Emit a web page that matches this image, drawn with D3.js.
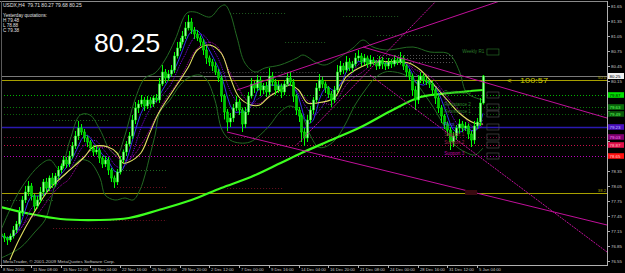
<!DOCTYPE html>
<html><head><meta charset="utf-8">
<script src="https://cdn.jsdelivr.net/npm/d3@7/dist/d3.min.js"></script>
<style>html,body{margin:0;padding:0;background:#000;overflow:hidden}svg{display:block}</style>
</head><body><svg id="c" width="625" height="273"></svg>
<script>
// ---------- DATA ----------
const firstOpen = 77.09;
const closes = [
 77.05,77.01,76.97,77.05,77.17,77.29,77.53,77.77,77.93,78.05,
 77.85,77.65,77.77,77.93,78.13,78.01,78.21,78.09,78.25,78.37,
 78.45,78.57,78.49,78.65,78.85,79.05,79.21,79.13,79.01,78.93,
 78.81,78.73,78.77,78.61,78.49,78.57,78.37,78.21,78.13,78.33,
 78.57,78.73,78.89,79.05,79.37,79.61,79.69,79.77,79.65,79.77,
 79.69,79.81,79.77,80.09,80.33,80.21,80.29,80.37,80.65,80.81,
 80.93,81.05,81.21,81.33,81.17,81.09,81.01,80.93,80.77,80.61,
 80.53,80.45,80.33,80.21,79.85,79.53,79.33,79.41,79.61,79.73,
 79.57,79.29,79.53,79.85,80.09,80.01,80.17,79.97,80.05,79.93,
 80.25,80.13,79.97,80.05,79.93,80.09,80.21,80.13,79.85,79.57,
 79.45,79.13,79.01,79.37,79.57,79.77,80.01,80.17,80.09,80.01,
 79.89,79.77,79.97,80.33,80.45,80.37,80.53,80.41,80.49,80.61,
 80.65,80.53,80.61,80.49,80.57,80.53,80.45,80.57,80.49,80.45,
 80.53,80.49,80.57,80.53,80.61,80.45,80.33,80.25,79.97,79.77,
 80.17,80.25,80.17,80.13,80.09,79.97,79.81,79.61,79.45,79.29,
 79.17,78.93,79.05,79.21,79.29,79.21,79.25,79.09,78.97,79.25,
 79.33,79.71,80.25];
const wickUp = [
 .04,.06,.03,.05,.08,.06,.1,.08,.12,.1, .06,.04,.08,.1,.06,.08,.05,.1,.06,.08,
 .05,.08,.06,.1,.08,.1,.14,.08,.06,.05, .04,.06,.08,.05,.04,.08,.06,.04,.05,.06,
 .08,.05,.06,.08,.1,.12,.08,.1,.06,.08, .06,.05,.08,.12,.14,.06,.08,.1,.08,.12,
 .08,.1,.12,.14,.08,.06,.08,.05,.06,.08, .05,.06,.08,.06,.05,.04,.06,.1,.08,.12,
 .06,.05,.1,.08,.12,.06,.1,.08,.06,.08, .16,.08,.06,.1,.05,.08,.1,.12,.06,.04,
 .06,.05,.08,.1,.08,.06,.1,.12,.06,.05, .04,.06,.08,.14,.1,.06,.12,.08,.06,.1,
 .12,.06,.08,.05,.1,.06,.04,.08,.06,.05, .08,.06,.1,.06,.12,.05,.04,.06,.05,.08,
 .1,.08,.05,.06,.04,.06,.04,.05,.06,.04, .05,.06,.08,.06,.1,.06,.08,.05,.06,.1,
 .08,.1,.02];
const wickDn = [
 .06,.08,.1,.04,.05,.06,.05,.08,.06,.08, .08,.1,.05,.06,.08,.1,.06,.08,.05,.06,
 .06,.05,.08,.06,.05,.06,.08,.06,.08,.1, .06,.08,.05,.1,.08,.06,.1,.08,.12,.06,
 .05,.06,.08,.05,.06,.08,.1,.06,.1,.06, .08,.06,.05,.06,.04,.1,.06,.05,.06,.05,
 .06,.05,.06,.05,.08,.1,.06,.08,.1,.12, .08,.1,.06,.08,.12,.15,.18,.1,.08,.06,
 .1,.16,.08,.06,.05,.1,.06,.12,.08,.1, .06,.08,.1,.06,.12,.06,.05,.08,.12,.1,
 .12,.2,.16,.08,.06,.08,.05,.06,.08,.1, .08,.14,.06,.05,.06,.08,.05,.06,.08,.05,
 .06,.08,.06,.08,.05,.06,.08,.06,.1,.08, .06,.08,.05,.06,.05,.08,.1,.08,.12,.2,
 .08,.06,.08,.06,.08,.1,.12,.1,.14,.1, .12,.16,.1,.08,.12,.08,.06,.1,.14,.08,
 .06,.08,.03];

const timeLabels = ["8 Nov 2010","11 Nov 08:00","15 Nov 12:00","18 Nov 04:00","22 Nov 16:00",
 "25 Nov 08:00","29 Nov 20:00","2 Dec 12:00","7 Dec 00:00","9 Dec 16:00","14 Dec 04:00",
 "16 Dec 20:00","21 Dec 08:00","24 Dec 00:00","28 Dec 16:00","31 Dec 12:00","5 Jan 04:00"];
const priceTicks = [81.65,81.35,81.05,80.75,80.45,80.15,79.85,79.55,79.25,78.95,78.65,78.35,78.05,77.75,77.45,77.15,76.85,76.55];

// indicator lines read as [bar index, price]
const ema200 = [[0,77.63],[10,77.49],[20,77.39],[33,77.37],[43,77.41],[53,77.57],[64,77.77],[74,78.01],
 [84,78.23],[94,78.51],[101,78.71],[111,78.97],[121,79.23],[131,79.55],[141,79.83],[151,79.91],[162,79.97]];
const maYellow = [[3,76.57],[6,76.97],[11,77.51],[16,77.97],[22,78.31],[28,78.63],[31,78.83],[36,78.83],
 [39,78.71],[41,78.51],[43,78.53],[47,78.71],[50,79.11],[53,79.51],[58,79.97],[63,80.43],[66,80.77],
 [70,80.87],[74,80.71],[77,80.23],[80,79.83],[84,79.67],[87,79.67],[90,79.83],[94,79.97],[97,80.07],
 [100,79.97],[103,79.71],[106,79.71],[112,79.81],[116,80.23],[121,80.43],[126,80.53],[133,80.53],
 [137,80.51],[141,80.37],[145,80.11],[150,79.77],[154,79.51],[159,79.31],[162,79.29]];
const bbUpper = [[0,77.17],[6.4,77.97],[13.1,78.47],[16.5,78.57],[19.8,78.37],[23.2,78.97],[26.6,79.47],
 [29.9,79.47],[33.3,79.17],[36.6,78.77],[39,78.67],[41.7,79.07],[45,79.77],[48.4,80.21],[51.8,80.31],
 [55.1,80.57],[58.5,80.97],[62.5,81.51],[65.2,81.53],[70.3,81.43],[73.6,81.63],[75.3,81.67],[77,81.51],
 [79.3,81.03],[82,80.51],[85.4,80.33],[88.7,80.41],[93.8,80.47],[99.5,80.61],[101.5,80.67],[106.2,80.51],
 [108.9,80.47],[114,80.63],[118.3,80.81],[121.7,80.97],[125,80.83],[129.7,80.77],[138.5,80.83],
 [144.2,80.73],[149.9,80.71],[151.9,80.61],[154.3,80.31],[156.6,79.91],[162,79.77]];
const bbLower = [[0,76.61],[6.4,76.81],[11.4,77.13],[14.8,77.37],[16.5,77.67],[18.2,78.07],[19.8,78.21],
 [23.2,78.37],[26.6,78.57],[29.9,78.53],[33.3,78.21],[35,77.87],[38.3,77.77],[41.7,77.81],[44.4,77.77],
 [46.7,77.97],[48.4,78.27],[50.1,78.67],[51.8,79.07],[53.4,79.53],[56.8,79.77],[60.2,80.07],[63.5,80.23],
 [66.9,80.27],[69.2,80.17],[71.9,79.77],[74.3,79.17],[77,78.97],[80.3,78.91],[83.7,78.93],[87.1,79.07],
 [90.4,79.27],[93.8,79.53],[97.2,79.65],[100.5,79.53],[103.9,79.07],[106.6,78.83],[108.9,78.83],
 [112.3,78.97],[115.6,79.27],[119,79.67],[122.4,79.97],[125.7,80.21],[129.1,80.33],[132.4,80.33],
 [135.8,80.27],[139.2,80.13],[142.5,79.87],[145.9,79.57],[149.3,79.21],[152.6,78.87],[156,78.73],
 [159.3,78.67],[162,78.81]];

// trend lines [[bar, price],[bar, price]]
const trendLines = [
 [[79.3,79.97],[167.7,81.75]],
 [[99.5,78.88],[146.6,81.77]],
 [[121.7,80.83],[203.7,79.41]],
 [[124,80.27],[203.7,76.73]],
 [[76,79.13],[203.7,77.27]]];

// horizontal levels
const currentPrice = 80.25;
const fibo50 = 80.17, fibo38 = 77.91;
const levelPrices = [79.87,79.63,79.49,79.23,79.03,78.87,78.65];
const levelNames = ["Resistance 3","Resistance 2","Resistance 1","Pivot","Support 1","Support 2","Support 3"];
// short pivot segments of earlier periods [startBar, endBar, price]
const oldPivots = [[77,95.5,81.51],[115,133.5,81.45],[126.4,145,81.07],[95.5,109,80.93],[126.4,152,80.67],
 [126.4,152,80.61],[126.4,152,80.53],[67,107,80.33],[17.5,36.6,79.37],[39,55.8,78.37],[39,55.8,78.03],
 [76,94.8,78.01],[0,17.5,77.77],[36.6,55.8,77.37],[17.5,36.6,77.21],[115,133,78.73]];
const weeklyR1 = 80.73;
const headerText = "USDX,H4  79.71 80.27 79.68 80.25";
const yesterday = ["Yesterday quotations:","H 79.48","L 78.88","C 79.38"];
const timerText = "100:57";

// ---------- DRAWING ----------
const W = 625, H = 273, R = 607, B = 265;
const svg = d3.select("#c");
const x = d3.scaleLinear().domain([0,160]).range([1,477]);
const y = d3.scaleLinear().domain([76.55,81.65]).range([261,6]);
const font = "'Liberation Sans', Arial, sans-serif";

svg.append("rect").attr("width",W).attr("height",H).attr("fill","#000");
svg.append("defs").append("clipPath").attr("id","plot")
  .append("rect").attr("x",1).attr("y",1).attr("width",R-1).attr("height",B-1);
const g = svg.append("g").attr("clip-path","url(#plot)");

// old pivot segments
const pivColors = ["#1f5a1f","#1f5a1f","#1f5a1f","#1f5a1f","#555","#555","#555","#555","#1f6a1f","#1f6a1f",
 "#6a1020","#6a1020","#1f5a1f","#6a1020","#6a1020","#6a1020"];
g.selectAll("line.op").data(oldPivots).join("line")
  .attr("x1",d=>x(d[0])).attr("x2",d=>x(d[1])).attr("y1",d=>Math.round(y(d[2]))+0.5).attr("y2",d=>Math.round(y(d[2]))+0.5)
  .attr("stroke",(d,i)=>pivColors[i]).attr("stroke-width",1).attr("stroke-dasharray","1,2");

// full-width levels
const levelColors = ["#00b400","#0a7a0a","#0a600a","#2a18b0","#7a0a3a","#c8104a","#c000c0"];
g.selectAll("line.lv").data(levelPrices).join("line")
  .attr("x1",1).attr("x2",R).attr("y1",d=>Math.round(y(d))+0.5).attr("y2",d=>Math.round(y(d))+0.5)
  .attr("stroke",(d,i)=>levelColors[i]).attr("stroke-width",(d,i)=>i===3?1.5:1)
  .attr("stroke-dasharray",(d,i)=>i===3?null:"1,2");

// current price / fibo lines
g.append("line").attr("x1",1).attr("x2",R).attr("y1",Math.round(y(currentPrice))+0.5).attr("y2",Math.round(y(currentPrice))+0.5)
  .attr("stroke","#7a7a7a").attr("stroke-width",1);
[fibo50,fibo38].forEach(p=>{
  g.append("line").attr("x1",1).attr("x2",R).attr("y1",Math.round(y(p))+0.5).attr("y2",Math.round(y(p))+0.5)
   .attr("stroke","#a8a000").attr("stroke-width",1);
});

const line = d3.line().x(d=>x(d[0])).y(d=>y(d[1])).curve(d3.curveCatmullRom);
// bollinger
[bbUpper,bbLower].forEach(a=>g.append("path").attr("d",line(a)).attr("fill","none").attr("stroke","#226a22").attr("stroke-width",1));
// ema200
g.append("path").attr("d",line(ema200)).attr("fill","none").attr("stroke","#3cff1e").attr("stroke-width",2.2);

// short moving averages of the closes (alligator-like)
function sma(p){return closes.map((c,i)=>{const s=closes.slice(Math.max(0,i-p+1),i+1);return [i,d3.mean(s)];});}
const shortMA = [[13,"#c000c0","1,1"],[8,"#8a00ff","1,1"],[5,"#3a3aff",null]];
shortMA.forEach(([p,col,dash])=>{
  g.append("path").attr("d",d3.line().x(d=>x(d[0])).y(d=>y(d[1]))(sma(p))).attr("fill","none")
   .attr("stroke",col).attr("stroke-width",0.9).attr("stroke-dasharray",dash);
});
// yellow MA
g.append("path").attr("d",line(maYellow)).attr("fill","none").attr("stroke","#e0e060").attr("stroke-width",1.1);

// candles
const candles = closes.map((c,i)=>{const o=i?closes[i-1]:firstOpen;return {i,o,c,h:Math.max(o,c)+wickUp[i],l:Math.min(o,c)-wickDn[i]};});
const cg = g.append("g");
cg.selectAll("line.w").data(candles).join("line")
  .attr("x1",d=>Math.round(x(d.i))+0.5).attr("x2",d=>Math.round(x(d.i))+0.5)
  .attr("y1",d=>y(d.h)).attr("y2",d=>y(d.l)).attr("stroke","#00ff00").attr("stroke-width",1);
cg.selectAll("rect.b").data(candles).join("rect")
  .attr("x",d=>Math.round(x(d.i))-0.5).attr("width",2)
  .attr("y",d=>y(Math.max(d.o,d.c))).attr("height",d=>Math.max(1,Math.abs(y(d.o)-y(d.c))))
  .attr("fill",d=>d.c>=d.o?"#9cff9c":"#00c800").attr("stroke","#00ff00").attr("stroke-width",0.5);

// trend lines
g.selectAll("line.tl").data(trendLines).join("line")
  .attr("x1",d=>x(d[0][0])).attr("y1",d=>y(d[0][1])).attr("x2",d=>x(d[1][0])).attr("y2",d=>y(d[1][1]))
  .attr("stroke","#c0109a").attr("stroke-width",1).attr("stroke-dasharray",(d,i)=>i===3||i===1?"2,1":null);

// level names (pivot labels)
const nameColors = ["#2a8a2a","#2a8a2a","#2a7a2a","#5050d0","#8a2040","#a02050","#c000a0"];
g.selectAll("text.ln").data(levelPrices).join("text")
  .attr("x",x(149)).attr("y",d=>y(d)-1).text((d,i)=>levelNames[i])
  .attr("fill",(d,i)=>nameColors[i]).attr("font-family",font).attr("font-size",4.6);
g.selectAll("rect.lb").data(levelPrices).join("rect")
  .attr("x",x(162)+4).attr("y",d=>y(d)-3).attr("width",12).attr("height",6)
  .attr("fill","none").attr("stroke","#555").attr("stroke-width",0.6);
g.append("text").attr("x",x(155)).attr("y",y(weeklyR1)+1).text("Weekly R1")
  .attr("fill","#2a7a2a").attr("font-family",font).attr("font-size",4.6);
g.append("rect").attr("x",x(162)+4).attr("y",y(weeklyR1)-3).attr("width",12).attr("height",6)
  .attr("fill","none").attr("stroke","#2a7a2a").attr("stroke-width",0.6);
g.append("rect").attr("x",x(156)).attr("y",y(fibo38)-3).attr("width",12).attr("height",5).attr("fill","#3a0a10");

// fibo tags
[["50.0",fibo50],["38.2",fibo38]].forEach(([t,p])=>{
  svg.append("text").attr("x",R-1).attr("y",y(p)-1).attr("text-anchor","end").text(t)
   .attr("fill","#a8a000").attr("font-family",font).attr("font-size",4.2);
});

// timer text
svg.append("text").attr("x",507).attr("y",y(fibo50)+2.5).text("<").attr("fill","#c8c800")
  .attr("font-family",font).attr("font-size",8);
svg.append("text").attr("x",520).attr("y",y(fibo50)+3).text(timerText).attr("fill","#c8c800")
  .attr("font-family",font).attr("font-size",8).attr("textLength",28).attr("lengthAdjust","spacingAndGlyphs");

// frame
svg.append("line").attr("x1",0).attr("x2",R).attr("y1",1.5).attr("y2",1.5).attr("stroke","#8a8a8a");
svg.append("line").attr("x1",1.5).attr("x2",1.5).attr("y1",1).attr("y2",B).attr("stroke","#5a5a5a");
svg.append("line").attr("x1",R+0.5).attr("x2",R+0.5).attr("y1",1).attr("y2",B).attr("stroke","#b0b0b0");
svg.append("line").attr("x1",0).attr("x2",R+1).attr("y1",B+0.5).attr("y2",B+0.5).attr("stroke","#b0b0b0");

// right axis (tick labels hidden where a price box covers them)
const boxPrices = levelPrices.concat([currentPrice]);
const visTicks = priceTicks.filter(t=>boxPrices.every(p=>Math.abs(y(p)-y(t))>4.5));
const ax = svg.append("g");
ax.selectAll("line").data(priceTicks).join("line")
  .attr("x1",R).attr("x2",R+3).attr("y1",d=>Math.round(y(d))+0.5).attr("y2",d=>Math.round(y(d))+0.5).attr("stroke","#b0b0b0");
ax.selectAll("text").data(visTicks).join("text")
  .attr("x",R+4).attr("y",d=>y(d)+1.6).text(d=>d.toFixed(2))
  .attr("fill","#c8c8c8").attr("font-family",font).attr("font-size",4.4);

// axis boxes
const boxFill = ["#00e000","#0a6a0a","#0a5a0a","#4a10c0","#800070","#e0104a","#ff1010"];
const boxText = ["#000","#60ff60","#60ff60","#c0c0ff","#ff80ff","#ffc0c0","#ffd0d0"];
levelPrices.forEach((p,i)=>{
  ax.append("rect").attr("x",R+1).attr("y",y(p)-2.8).attr("width",16).attr("height",5.6).attr("fill",boxFill[i]);
  ax.append("text").attr("x",R+2.5).attr("y",y(p)+1.6).text(p.toFixed(2)).attr("fill",boxText[i])
    .attr("font-family",font).attr("font-size",4.4);
});
ax.append("rect").attr("x",R+1).attr("y",y(currentPrice)-3).attr("width",16).attr("height",6).attr("fill","#f0f0f0");
ax.append("text").attr("x",R+2.5).attr("y",y(currentPrice)+1.6).text(currentPrice.toFixed(2)).attr("fill","#000")
  .attr("font-family",font).attr("font-size",4.4);

// time axis
const tx = svg.append("g");
timeLabels.forEach((t,k)=>{
  const xx = Math.round(x(k*10))+0.5;
  tx.append("line").attr("x1",xx).attr("x2",xx).attr("y1",B).attr("y2",B+3).attr("stroke","#b0b0b0");
  tx.append("text").attr("x",xx+1.5).attr("y",271).text(t).attr("fill","#c8c8c8")
    .attr("font-family",font).attr("font-size",4.2);
});

// header texts
svg.append("text").attr("x",3).attr("y",7).text(headerText).attr("fill","#e0e0e0")
  .attr("font-family",font).attr("font-size",5).attr("xml:space","preserve");
yesterday.forEach((t,i)=>svg.append("text").attr("x",3).attr("y",17+5*i).text(t).attr("fill","#e0e0e0")
  .attr("font-family",font).attr("font-size",4.6));
svg.append("text").attr("x",94).attr("y",52).text(currentPrice.toFixed(2)).attr("fill","#ffffff")
  .attr("font-family",font).attr("font-size",26.5);
svg.append("text").attr("x",3).attr("y",263).text("MetaTrader, © 2001-2009 MetaQuotes Software Corp.")
  .attr("fill","#c8c8c8").attr("font-family",font).attr("font-size",4.4)
  .attr("textLength",112).attr("lengthAdjust","spacingAndGlyphs");
</script></body></html>
